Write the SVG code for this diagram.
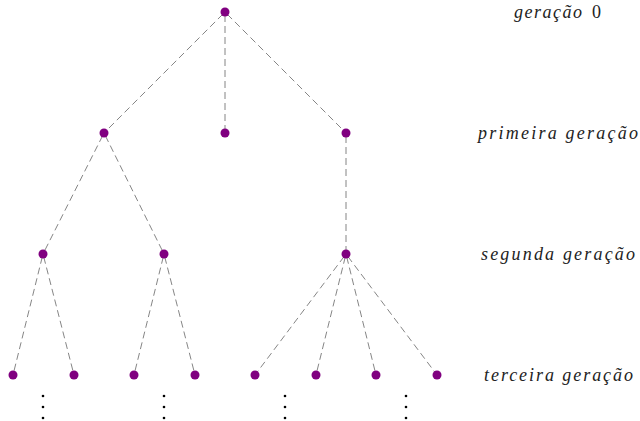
<svg xmlns="http://www.w3.org/2000/svg" width="640" height="421" viewBox="0 0 640 421">
<style>
.e{stroke:#777;stroke-width:0.9;stroke-dasharray:7,4;stroke-dashoffset:-3;fill:none}
.n{fill:#800080}
.d{fill:#000}
.t{font-family:'Liberation Serif','Times New Roman',serif;font-style:italic;font-size:18px;fill:#222}
.u{font-style:normal}
</style>
<rect width="640" height="421" fill="#fff"/>
<g id="edges">
<line class="e" x1="225" y1="12" x2="104" y2="133"/>
<line class="e" x1="225" y1="12" x2="225" y2="133"/>
<line class="e" x1="225" y1="12" x2="346" y2="133"/>
<line class="e" x1="104" y1="133" x2="43" y2="254"/>
<line class="e" x1="104" y1="133" x2="164" y2="254"/>
<line class="e" x1="346" y1="133" x2="346" y2="254"/>
<line class="e" x1="43" y1="254" x2="13" y2="375"/>
<line class="e" x1="43" y1="254" x2="74" y2="375"/>
<line class="e" x1="164" y1="254" x2="134" y2="375"/>
<line class="e" x1="164" y1="254" x2="195" y2="375"/>
<line class="e" x1="346" y1="254" x2="255" y2="375"/>
<line class="e" x1="346" y1="254" x2="316" y2="375"/>
<line class="e" x1="346" y1="254" x2="376" y2="375"/>
<line class="e" x1="346" y1="254" x2="437" y2="375"/>
</g>
<g id="n0"><circle class="n" cx="225" cy="12" r="4.5"/></g>
<g id="n1a"><circle class="n" cx="104" cy="133" r="4.5"/></g>
<g id="n1b"><circle class="n" cx="225" cy="133" r="4.5"/></g>
<g id="n1c"><circle class="n" cx="346" cy="133" r="4.5"/></g>
<g id="n2a"><circle class="n" cx="43" cy="254" r="4.5"/></g>
<g id="n2b"><circle class="n" cx="164" cy="254" r="4.5"/></g>
<g id="n2c"><circle class="n" cx="346" cy="254" r="4.5"/></g>
<g id="n3a"><circle class="n" cx="13" cy="375" r="4.5"/></g>
<g id="n3b"><circle class="n" cx="74" cy="375" r="4.5"/></g>
<g id="n3c"><circle class="n" cx="134" cy="375" r="4.5"/></g>
<g id="n3d"><circle class="n" cx="195" cy="375" r="4.5"/></g>
<g id="n3e"><circle class="n" cx="255" cy="375" r="4.5"/></g>
<g id="n3f"><circle class="n" cx="316" cy="375" r="4.5"/></g>
<g id="n3g"><circle class="n" cx="376" cy="375" r="4.5"/></g>
<g id="n3h"><circle class="n" cx="437" cy="375" r="4.5"/></g>
<g id="dots">
<circle class="d" cx="43" cy="396" r="1.3"/><circle class="d" cx="43" cy="407" r="1.3"/><circle class="d" cx="43" cy="418" r="1.3"/>
<circle class="d" cx="164" cy="396" r="1.3"/><circle class="d" cx="164" cy="407" r="1.3"/><circle class="d" cx="164" cy="418" r="1.3"/>
<circle class="d" cx="285" cy="396" r="1.3"/><circle class="d" cx="285" cy="407" r="1.3"/><circle class="d" cx="285" cy="418" r="1.3"/>
<circle class="d" cx="406" cy="396" r="1.3"/><circle class="d" cx="406" cy="407" r="1.3"/><circle class="d" cx="406" cy="418" r="1.3"/>
</g>
<g id="labels">
<text class="t" x="514" y="18" textLength="68" lengthAdjust="spacing">geração</text>
<text class="t u" x="592" y="18">0</text>
<text class="t" x="478" y="139" textLength="160" lengthAdjust="spacing">primeira geração</text>
<text class="t" x="481" y="260" textLength="154" lengthAdjust="spacing">segunda geração</text>
<text class="t" x="484" y="381" textLength="149" lengthAdjust="spacing">terceira geração</text>
</g>
</svg>
